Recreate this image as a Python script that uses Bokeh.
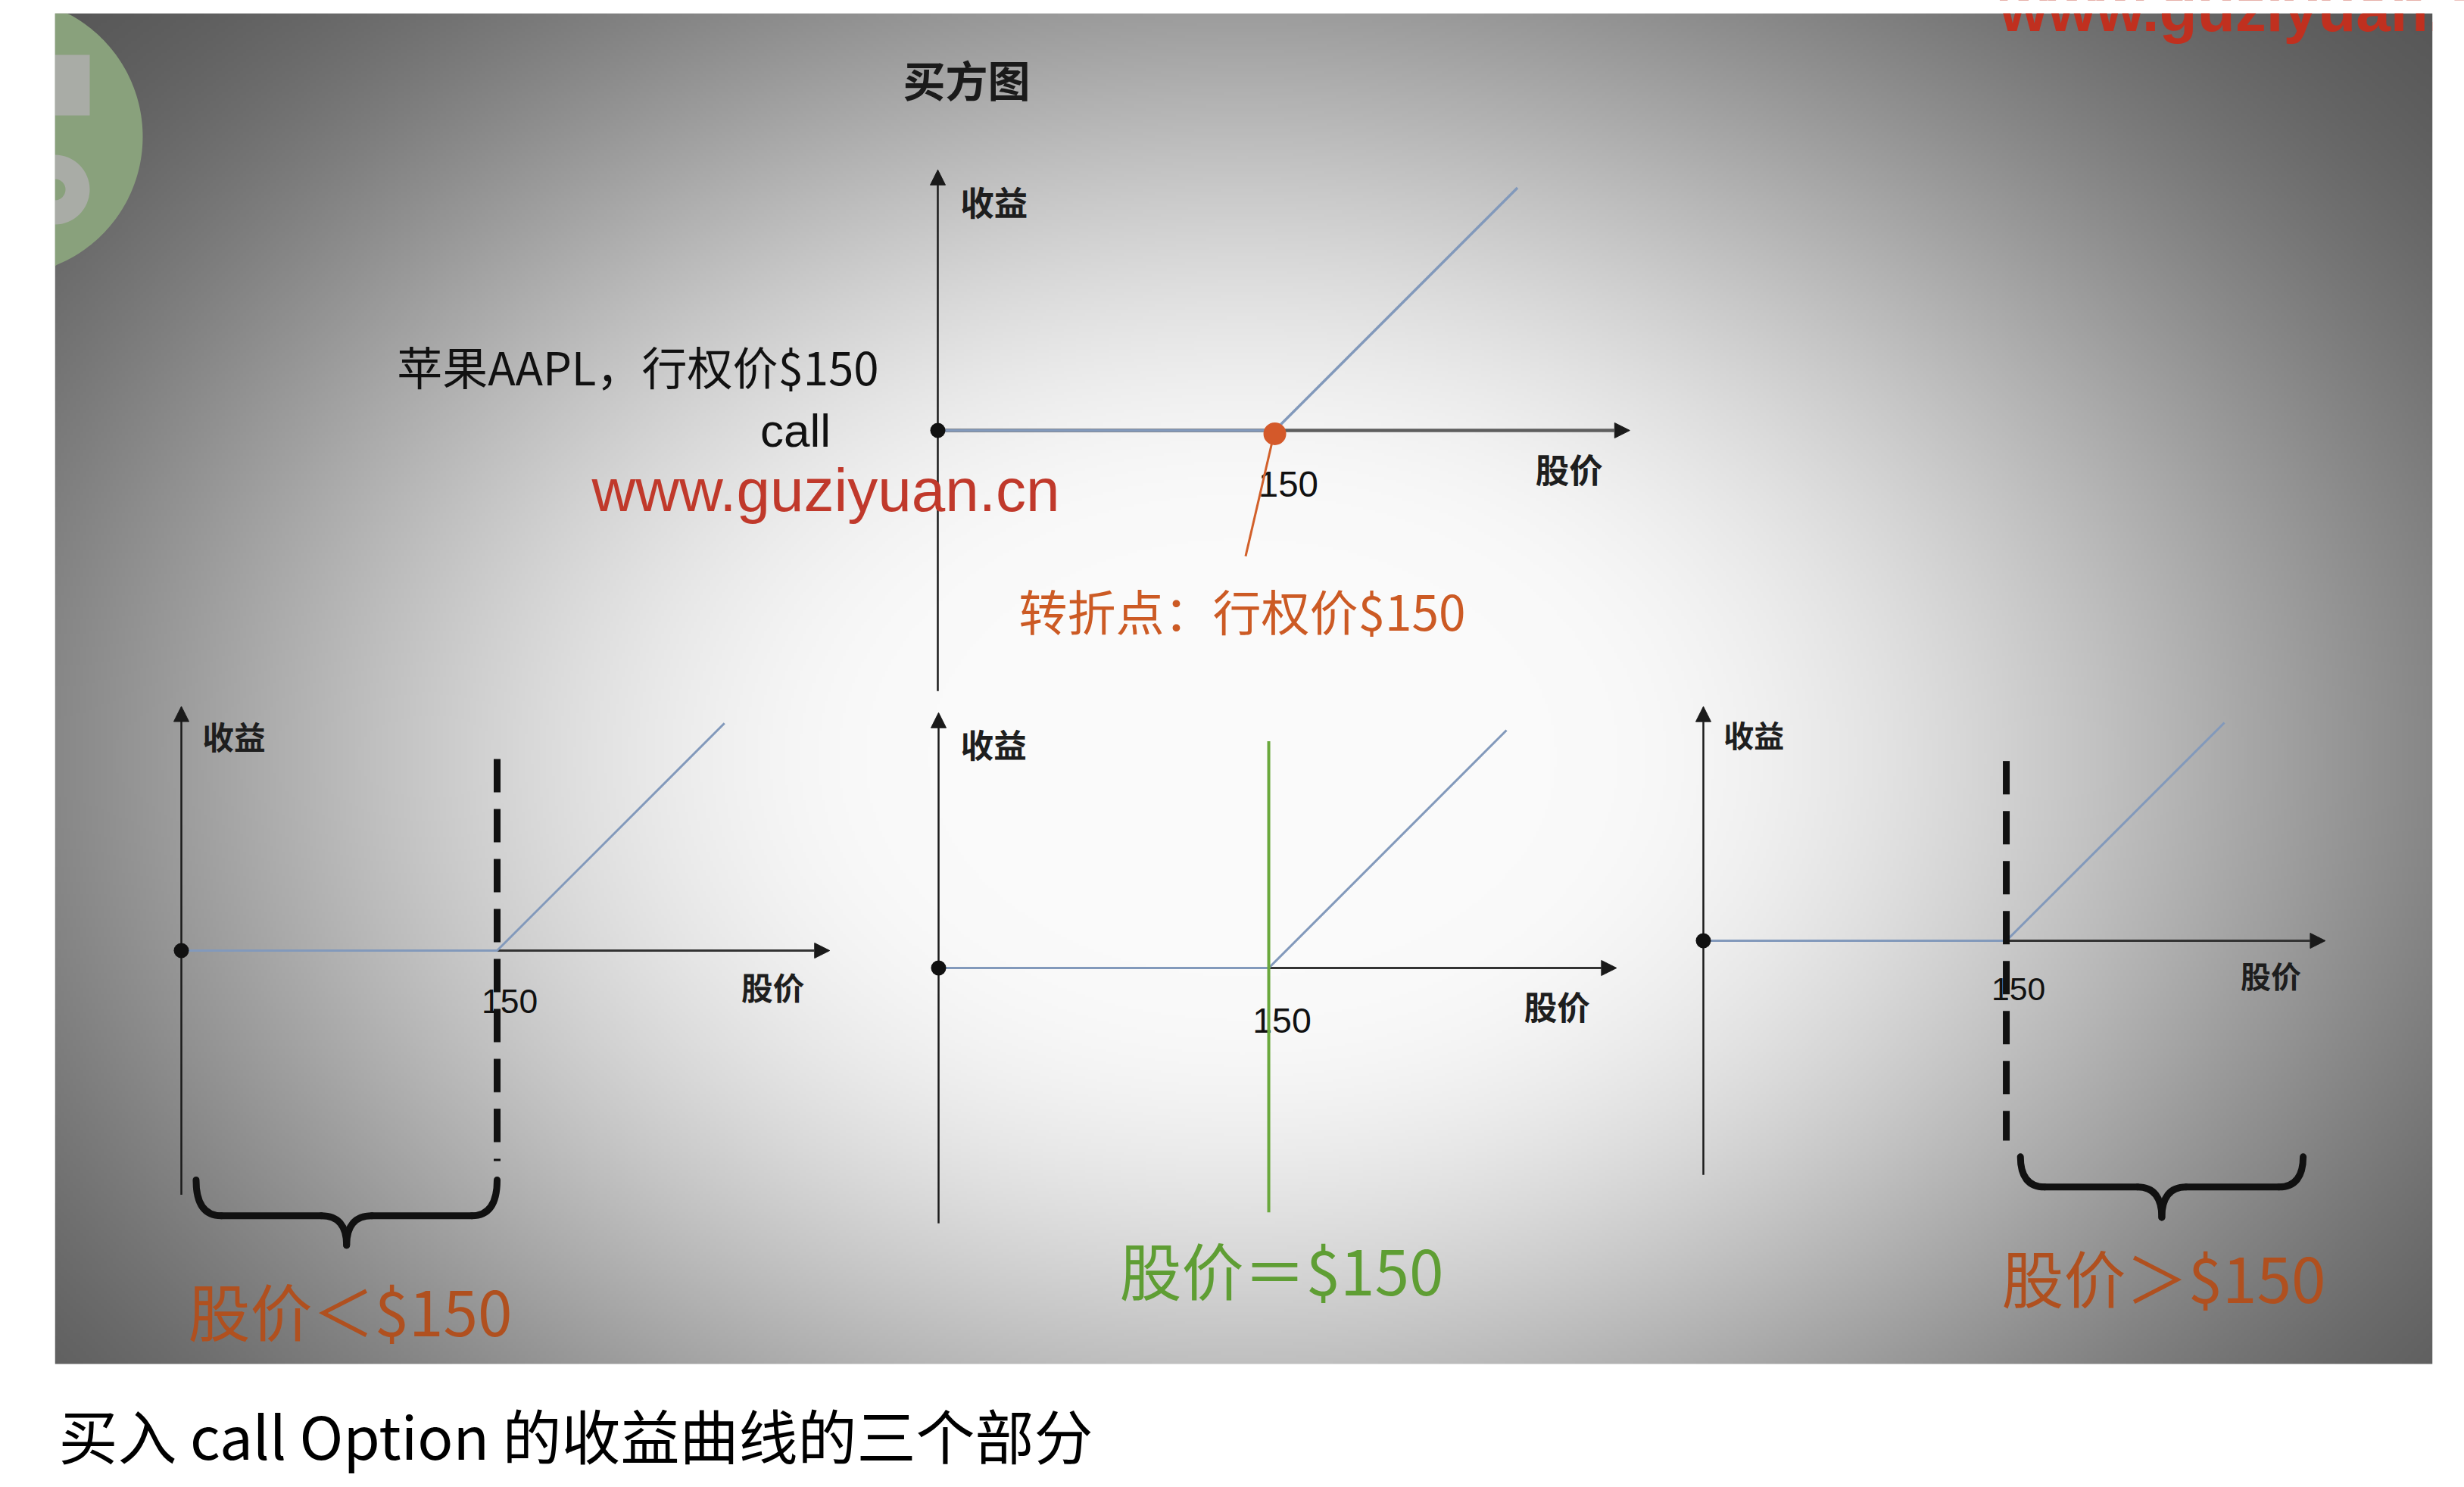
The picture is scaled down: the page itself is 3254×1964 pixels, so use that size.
import numpy as np
from bokeh.plotting import figure
from bokeh.models import Range1d, Arrow, NormalHead
from bokeh.core.properties import value
from bokeh.embed import file_html
from bokeh.resources import INLINE

W, H = 3254, 1964

# ---------------- data ----------------
strike = 150
price = [0, 150, 258]          # stock price at expiry
payoff = [0, 0, 108]           # long call payoff
price_axis_end = 308
payoff_axis_half = 116
title_text = "买方图"
setup_text = "苹果AAPL，行权价$150"
option_text = "call"
site_text = "www.guziyuan.cn"
kink_text = "转折点：行权价$150"
y_label = "收益"
x_label = "股价"
strike_label = "150"
region_labels = ["股价＜$150", "股价＝$150", "股价＞$150"]
caption_text = "买入 call Option 的收益曲线的三个部分"

CJK = "Noto Sans CJK SC"
LAT = "Liberation Sans"


def T(y):
    return H - y


p = figure(width=W, height=H, x_range=Range1d(0, W), y_range=Range1d(0, H),
           output_backend="svg", toolbar_location=None, min_border=0,
           x_axis_location=None, y_axis_location=None,
           background_fill_color="white", border_fill_color="white",
           outline_line_color=None)
p.grid.visible = False


def txt(x, y, s, size, color, font=CJK, align="center", baseline="middle",
        style="normal", rn=None, level="glyph"):
    kw = {}
    if rn:
        kw = dict(x_range_name=rn + "_x", y_range_name=rn + "_y")
    p.text(x=[x], y=[y], text=[s], text_font=value(font),
           text_font_size=value(f"{size:.1f}px"), text_color=color,
           text_align=align, text_baseline=baseline, text_font_style=style,
           level=level, **kw)


# ---------------- slide background ----------------
SL, SR, ST, SB = 72, 3212, 17, 1801
nx, ny = 785, 446
xs = np.linspace(SL, SR, nx)
ys = np.linspace(SB, ST, ny)
X, Y = np.meshgrid(xs, ys)
r = np.hypot((X - 1640) / 1660, (Y - 1000) / 1160)
t = np.clip((r - 0.25) / 1.1, 0, 1)
v = (250 - 165 * t * t * (3 - 2 * t)).astype(np.uint8)
img = np.zeros((ny, nx), dtype=np.uint32)
view = img.view(dtype=np.uint8).reshape((ny, nx, 4))
view[..., 0] = v
view[..., 1] = v
view[..., 2] = v
view[..., 3] = 255
p.image_rgba(image=[img], x=SL, y=T(SB), dw=SR - SL, dh=SB - ST, level="image")

# logo remnant (top-left), clipped to the slide
ang = np.linspace(0, 2 * np.pi, 240)
cxs = np.clip(5 + 183 * np.cos(ang), SL, None)
cys = np.clip(180 + 183 * np.sin(ang), ST, None)
p.patch(x=list(cxs), y=[T(v_) for v_ in cys], fill_color="#89a17c", line_color=None, level="image")
p.quad(left=[SL], right=[118], top=[T(72)], bottom=[T(152)], fill_color="#a9aca6",
       line_color=None, level="image")
p.annular_wedge(x=[SL], y=[T(250)], inner_radius=14, outer_radius=46,
                start_angle=-np.pi / 2, end_angle=np.pi / 2, fill_color="#a9aca6",
                line_color=None, level="image")

# clipped watermark at top right
txt(2640, T(12), site_text, 82, "#c0301f", font=LAT, align="left",
    baseline="alphabetic", style="bold", level="image")

# white page margins around the slide (drawn after the image level)
p.quad(left=[0, 0, SR], right=[SL, W, W], bottom=[0, T(ST), 0], top=[H, H, H],
       fill_color="white", line_color=None, level="underlay")

# ---------------- texts of the upper part ----------------
txt(1276, T(103), title_text, 56, "#1a1a1a", style="bold")
txt(842, T(482), setup_text, 60, "#111111")
txt(1050, T(568), option_text, 62, "#111111", font=LAT)
txt(1090, T(647), site_text, 80, "#c0392b", font=LAT)
txt(1640, T(804), kink_text, 64, "#cc5a24")

# ---------------- diagrams ----------------
diagrams = {
    "top": dict(ox=1238, oy=568, s=2.967),
    "left": dict(ox=239, oy=1255, s=2.78),
    "mid": dict(ox=1239, oy=1278, s=2.907),
    "right": dict(ox=2249, oy=1242, s=2.667),
}
exr, eyr = {}, {}
for name, d in diagrams.items():
    exr[name + "_x"] = Range1d(-d["ox"] / d["s"], (W - d["ox"]) / d["s"])
    eyr[name + "_y"] = Range1d(-(H - d["oy"]) / d["s"], d["oy"] / d["s"])
p.extra_x_ranges = exr
p.extra_y_ranges = eyr


def rk(name):
    return dict(x_range_name=name + "_x", y_range_name=name + "_y")


for name, d in diagrams.items():
    s = d["s"]
    top = name == "top"
    axis_col = "#1a1a1a"
    # y axis
    p.add_layout(Arrow(x_start=0, y_start=-payoff_axis_half, x_end=0, y_end=payoff_axis_half,
                       end=NormalHead(size=20, fill_color=axis_col, line_color=axis_col),
                       line_color=axis_col, line_width=2.5, level="underlay", **rk(name)))
    # x axis
    xcol = "#5e5e5e" if top else "#333333"
    p.add_layout(Arrow(x_start=0, y_start=0, x_end=price_axis_end, y_end=0,
                       end=NormalHead(size=20, fill_color=axis_col, line_color=axis_col),
                       line_color=xcol, line_width=4.5 if top else 3, level="underlay", **rk(name)))
    # payoff
    p.line(price, payoff, line_color="#8299bb", line_width=3.5 if top else 3, **rk(name))
    p.scatter([price[0]], [payoff[0]], size=20, fill_color="#111111", line_color=None, **rk(name))
    # labels
    txt(10, 102, y_label, 15 * s, "#1e1e1e", rn=name, align="left", style="bold")
    txt(281, -17, x_label, 15 * s, "#1e1e1e", rn=name, style="bold")
    txt(156, -24, strike_label, 16 * s, "#111111", font=LAT, rn=name)

# top diagram: kink marker and leader
p.segment(x0=[strike], y0=[payoff[1]], x1=[137], y1=[-56], line_color="#d2602a",
          line_width=3, **rk("top"))
p.scatter([price[1]], [payoff[1] - 1.5], size=30, fill_color="#d4592a", line_color=None, **rk("top"))

# left / right: dashed strike lines
p.segment(x0=[strike], y0=[91], x1=[strike], y1=[-100], line_color="#111111",
          line_width=9, line_dash="44 22", **rk("left"))
p.segment(x0=[strike], y0=[89], x1=[strike], y1=[-99], line_color="#111111",
          line_width=9, line_dash="44 22", **rk("right"))
# middle: green strike line
p.segment(x0=[strike], y0=[103], x1=[strike], y1=[-111], line_color="#6aa83c",
          line_width=4, **rk("mid"))


def brace(name, x0, x1, yt, ym, yb, w):
    xc = (x0 + x1) / 2
    p.quadratic(x0=[x0, xc - w, xc, x1 - w], y0=[yt, ym, yb, ym],
                x1=[x0 + w, xc, xc + w, x1], y1=[ym, yb, ym, yt],
                cx=[x0, xc, xc, x1], cy=[ym, ym, ym, ym],
                line_color="#111111", line_width=9, line_cap="round", **rk(name))
    p.segment(x0=[x0 + w, xc + w], y0=[ym, ym], x1=[xc - w, x1 - w], y1=[ym, ym],
              line_color="#111111", line_width=9, line_cap="round", **rk(name))


brace("left", 7, strike, -109, -126, -140, 12)
brace("right", strike + 7, 297, -107, -122, -137, 12)

# region labels
txt(462, T(1729), region_labels[0], 82, "#b0501f")
txt(1692, T(1675), region_labels[1], 82, "#5f9e34")
txt(2857, T(1685), region_labels[2], 82, "#b0501f")

# caption under the slide
txt(77, T(1893), caption_text, 78, "#000000", align="left")

open("out.html", "w").write(file_html(p, INLINE))
